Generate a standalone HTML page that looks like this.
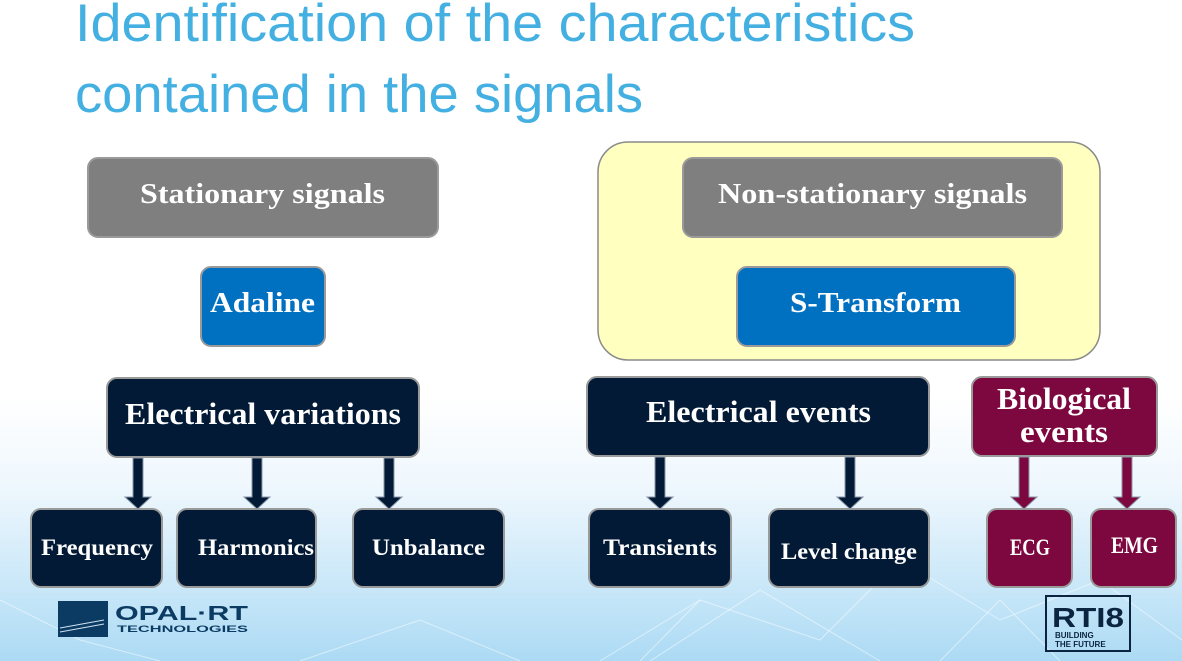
<!DOCTYPE html>
<html><head><meta charset="utf-8"><style>
html,body{margin:0;padding:0;width:1182px;height:661px;overflow:hidden}
body{background:linear-gradient(180deg,#ffffff 0%,#ffffff 60%,#eef7fd 74%,#c6e6f8 90%,#acdaf4 100%)}
</style></head><body>
<svg width="1182" height="661" xmlns="http://www.w3.org/2000/svg" style="position:absolute;left:0;top:0">
<g stroke="#ffffff" stroke-opacity="0.5" stroke-width="1" fill="none">
<path d="M600 661 L700 600 L820 640 L900 560 L1000 620 L1100 580 L1182 640"/>
<path d="M650 661 L760 590 L880 661 M940 661 L1000 600 L1060 661 M700 600 L640 661"/>
<path d="M300 661 L420 620 L520 661 M0 600 L80 640 L160 661"/>
</g>
<text x="75" y="41" font-family="Liberation Sans, sans-serif" font-size="53" fill="#44b0e2" textLength="840" lengthAdjust="spacingAndGlyphs">Identification of the characteristics</text>
<text x="75" y="112" font-family="Liberation Sans, sans-serif" font-size="53" fill="#44b0e2" textLength="568" lengthAdjust="spacingAndGlyphs">contained in the signals</text>
<rect x="598" y="142" width="502" height="218" rx="30" fill="#ffffbf" stroke="#8a8a8a" stroke-width="1.5"/>
<g stroke="#9a9a9a" stroke-width="2">
<rect x="88" y="158" width="350" height="79" rx="10" fill="#7f7f7f"/>
<rect x="683" y="158" width="379" height="79" rx="10" fill="#7f7f7f"/>
<rect x="201" y="267" width="124" height="79" rx="10" fill="#0070c0"/>
<rect x="737" y="267" width="278" height="79" rx="10" fill="#0070c0"/>
<rect x="107" y="378" width="312" height="79" rx="10" fill="#021a36"/>
<rect x="587" y="377" width="342" height="79" rx="10" fill="#021a36"/>
<rect x="972" y="377" width="185" height="79" rx="10" fill="#7d0840"/>
<rect x="31" y="509" width="131" height="78" rx="10" fill="#021a36"/>
<rect x="177" y="509" width="139" height="78" rx="10" fill="#021a36"/>
<rect x="353" y="509" width="151" height="78" rx="10" fill="#021a36"/>
<rect x="589" y="509" width="142" height="78" rx="10" fill="#021a36"/>
<rect x="769" y="509" width="160" height="78" rx="10" fill="#021a36"/>
<rect x="987" y="509" width="85" height="78" rx="10" fill="#7d0840"/>
<rect x="1091" y="509" width="85" height="78" rx="10" fill="#7d0840"/>
</g>
<g stroke="#8a98a8" stroke-width="1">
<path fill="#021a36" d="M133 458 h10 v39 h8 l-13 12 l-13 -12 h8z"/>
<path fill="#021a36" d="M252 458 h10 v39 h8 l-13 12 l-13 -12 h8z"/>
<path fill="#021a36" d="M384 458 h10 v39 h8 l-13 12 l-13 -12 h8z"/>
<path fill="#021a36" d="M655 457 h10 v40 h8 l-13 12 l-13 -12 h8z"/>
<path fill="#021a36" d="M845 457 h10 v40 h8 l-13 12 l-13 -12 h8z"/>
<path fill="#7d0840" d="M1019 457 h10 v40 h8 l-13 12 l-13 -12 h8z"/>
<path fill="#7d0840" d="M1122 457 h10 v40 h8 l-13 12 l-13 -12 h8z"/>
</g>
<g font-family="Liberation Serif, serif" font-weight="bold" fill="#ffffff" lengthAdjust="spacingAndGlyphs">
<text x="140" y="203" font-size="29" textLength="245" lengthAdjust="spacingAndGlyphs">Stationary signals</text>
<text x="718" y="203" font-size="29" textLength="309" lengthAdjust="spacingAndGlyphs">Non-stationary signals</text>
<text x="210" y="312" font-size="29" textLength="105" lengthAdjust="spacingAndGlyphs">Adaline</text>
<text x="790" y="312" font-size="29" textLength="171" lengthAdjust="spacingAndGlyphs">S-Transform</text>
<text x="125" y="424" font-size="31" textLength="276" lengthAdjust="spacingAndGlyphs">Electrical variations</text>
<text x="646" y="422" font-size="31" textLength="225" lengthAdjust="spacingAndGlyphs">Electrical events</text>
<text x="997" y="409" font-size="31" textLength="134" lengthAdjust="spacingAndGlyphs">Biological</text>
<text x="1020" y="442" font-size="31" textLength="88" lengthAdjust="spacingAndGlyphs">events</text>
<text x="41" y="555" font-size="23" textLength="112" lengthAdjust="spacingAndGlyphs">Frequency</text>
<text x="198" y="555" font-size="23" textLength="116" lengthAdjust="spacingAndGlyphs">Harmonics</text>
<text x="372" y="555" font-size="23" textLength="113" lengthAdjust="spacingAndGlyphs">Unbalance</text>
<text x="603" y="555" font-size="23" textLength="114" lengthAdjust="spacingAndGlyphs">Transients</text>
<text x="781" y="559" font-size="23" textLength="136" lengthAdjust="spacingAndGlyphs">Level change</text>
<text x="1010" y="555" font-size="23" textLength="40" lengthAdjust="spacingAndGlyphs">ECG</text>
<text x="1111" y="553" font-size="23" textLength="47" lengthAdjust="spacingAndGlyphs">EMG</text>
</g>
<rect x="58" y="601" width="50" height="36" fill="#0b3a63"/>
<path d="M60 628 L104 620 M60 632 L104 624" stroke="#cfe3f2" stroke-width="1"/>
<text x="115" y="620" font-family="Liberation Sans, sans-serif" font-weight="bold" font-size="20" fill="#0b3a63" textLength="133" lengthAdjust="spacingAndGlyphs">OPAL·RT</text>
<text x="117" y="632" font-family="Liberation Sans, sans-serif" font-weight="bold" font-size="9" fill="#0b3a63" textLength="131" lengthAdjust="spacingAndGlyphs">TECHNOLOGIES</text>
<rect x="1046" y="596" width="84" height="55" fill="none" stroke="#0b2540" stroke-width="2"/>
<text x="1052" y="627" font-family="Liberation Sans, sans-serif" font-weight="bold" font-size="28" fill="#0b2540" textLength="72" lengthAdjust="spacingAndGlyphs">RTI8</text>
<text x="1055" y="638" font-family="Liberation Sans, sans-serif" font-weight="bold" font-size="8" fill="#0b2540">BUILDING</text>
<text x="1055" y="647" font-family="Liberation Sans, sans-serif" font-weight="bold" font-size="8" fill="#0b2540">THE FUTURE</text>
</svg>
</body></html>
